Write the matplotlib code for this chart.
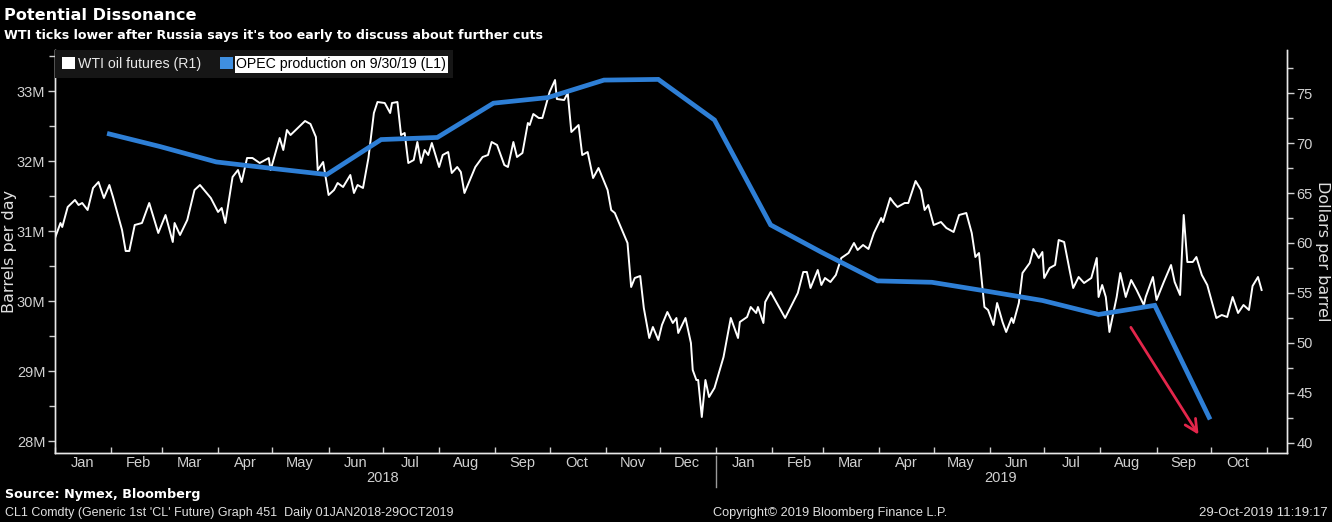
import numpy as np
import matplotlib
matplotlib.use('Agg')
import matplotlib.pyplot as plt
import matplotlib.dates as mdates
from matplotlib.patches import Patch
from matplotlib.ticker import FuncFormatter, MultipleLocator

# WTI front month, $/bbl (days counted from 1 Jan 2018)
wti_day = [0, 3, 4, 7, 11, 13, 15, 18, 21, 24, 27, 30, 32, 37, 39, 41, 44, 48, 52, 57,
           61, 65, 66, 69, 73, 77, 80, 86, 90, 92, 94, 98, 101, 103, 106, 109, 113, 118, 119, 124,
           126, 128, 130, 134, 138, 141, 144, 145, 148, 151, 154, 156, 159, 163, 165, 167, 170, 173, 176, 178,
           182, 185, 186, 189, 191, 193, 195, 198, 200, 202, 204, 206, 208, 212, 214, 217, 219, 222, 224, 226,
           229, 232, 236, 239, 241, 244, 248, 250, 253, 255, 258, 261, 262, 264, 267, 269, 271, 273, 276, 277,
           281, 283, 285, 289, 291, 294, 297, 300, 305, 307, 309, 316, 318, 320, 323, 325, 328, 330, 333, 335,
           338, 341, 343, 344, 348, 351, 352, 354, 355, 357, 359, 361, 364, 369, 373, 377, 378, 382, 384, 387,
           388, 391, 392, 395, 399, 403, 410, 413, 415, 417, 421, 423, 425, 428, 431, 434, 438, 441, 443, 446,
           449, 452, 456, 457, 461, 463, 465, 469, 471, 475, 478, 480, 482, 485, 489, 492, 496, 499, 503, 506,
           508, 510, 513, 515, 518, 520, 523, 525, 528, 529, 532, 534, 538, 540, 543, 545, 546, 549, 552, 554,
           557, 560, 562, 565, 568, 572, 575, 576, 578, 580, 582, 586, 588, 591, 594, 597, 601, 602, 606, 608,
           612, 616, 618, 621, 623, 625, 628, 630, 633, 636, 641, 644, 647, 650, 653, 656, 659, 661, 664, 666]
wti_price = [60.5, 62.0, 61.6, 63.6, 64.3, 63.8, 64.0, 63.3, 65.5, 66.1, 64.5, 65.8, 64.6, 61.3, 59.2, 59.2, 61.8, 62.0, 64.0, 61.0,
             62.8, 60.1, 62.0, 60.8, 62.3, 65.3, 65.8, 64.5, 63.1, 63.5, 62.0, 66.6, 67.3, 66.1, 68.5, 68.5, 68.0, 68.5, 67.3, 70.5,
             69.3, 71.3, 70.8, 71.5, 72.2, 71.9, 70.6, 67.3, 68.1, 64.8, 65.3, 66.0, 65.6, 66.8, 65.0, 65.8, 65.5, 68.5, 73.0, 74.1,
             74.0, 73.0, 74.0, 74.1, 70.8, 71.0, 68.0, 68.3, 70.1, 68.0, 69.3, 68.8, 70.0, 67.6, 68.8, 69.1, 67.0, 67.6, 67.1, 65.0,
             66.3, 67.6, 68.6, 68.8, 70.1, 69.8, 67.8, 67.6, 70.1, 68.6, 69.0, 72.0, 71.8, 72.9, 72.5, 72.5, 73.8, 75.1, 76.3, 74.4,
             74.3, 75.0, 71.1, 71.8, 68.8, 69.1, 66.5, 67.5, 65.3, 63.3, 63.0, 60.0, 55.6, 56.5, 56.7, 53.5, 50.5, 51.6, 50.3, 51.8,
             53.1, 52.0, 52.5, 51.0, 52.5, 50.0, 47.3, 46.3, 46.3, 42.6, 46.3, 44.6, 45.5, 48.6, 52.5, 50.5, 52.1, 52.6, 53.6, 53.0,
             53.6, 52.0, 54.1, 55.1, 53.8, 52.5, 55.0, 57.1, 57.1, 55.5, 57.3, 55.8, 56.5, 56.1, 56.8, 58.5, 59.0, 60.0, 59.3, 59.8,
             59.4, 61.0, 62.5, 62.1, 64.5, 64.0, 63.6, 64.0, 64.0, 66.2, 65.3, 63.3, 63.8, 61.8, 62.1, 61.5, 61.1, 62.8, 63.0, 61.0,
             58.6, 59.0, 53.6, 53.3, 51.8, 54.0, 52.1, 51.1, 52.5, 52.0, 54.0, 57.0, 58.0, 59.4, 58.5, 59.1, 56.5, 57.5, 57.8, 60.3,
             60.1, 57.3, 55.5, 56.6, 56.0, 56.5, 58.5, 54.6, 55.8, 54.6, 51.1, 54.6, 57.0, 54.6, 56.3, 55.3, 53.8, 54.6, 56.6, 54.3,
             56.1, 57.8, 56.1, 54.8, 62.8, 58.1, 58.1, 58.6, 56.8, 55.8, 52.5, 52.8, 52.6, 54.6, 53.0, 53.8, 53.3, 55.7, 56.6, 55.3]

# OPEC crude production, million barrels per day (month end)
opec_month = ['2018-01-31', '2018-02-28', '2018-03-31', '2018-04-30', '2018-05-31', '2018-06-30',
              '2018-07-31', '2018-08-31', '2018-09-30', '2018-10-31', '2018-11-30', '2018-12-31',
              '2019-01-31', '2019-02-28', '2019-03-31', '2019-04-30', '2019-05-31', '2019-06-30',
              '2019-07-31', '2019-08-31', '2019-09-30']
opec_mbd = [32.39, 32.21, 31.99, 31.90, 31.81, 32.31, 32.34, 32.83, 32.91, 33.16, 33.17, 32.59,
            31.09, 30.70, 30.29, 30.27, 30.14, 30.01, 29.81, 29.94, 28.34]

month_names = ['Jan', 'Feb', 'Mar', 'Apr', 'May', 'Jun', 'Jul', 'Aug', 'Sep', 'Oct', 'Nov', 'Dec']

fg = '#d0d0d0'
narrow = ['Liberation Sans', 'DejaVu Sans']

wti_dates = np.datetime64('2018-01-01') + np.array(wti_day).astype('timedelta64[D]')
opec_dates = np.array(opec_month, dtype='datetime64[D]')

fig = plt.figure(figsize=(13.32, 5.22), dpi=100, facecolor='black')
ax = fig.add_axes([0.0413, 0.1322, 0.9249, 0.772])
ax2 = ax.twinx()
ax.set_zorder(ax2.get_zorder() + 1)
ax.patch.set_visible(False)
ax2.set_facecolor('black')

ax2.plot(wti_dates, wti_price, color='white', lw=1.4)
ax.plot(opec_dates, opec_mbd, color='#2e7fd6', lw=3.4, solid_joinstyle='miter')

x0 = np.datetime64('2018-01-01')
x1 = np.datetime64('2019-11-12')
ax.set_xlim(x0, x1)
ax.set_ylim(27.83, 33.59)
ax2.set_ylim(39.0, 79.3)

# axes styling
for a in (ax, ax2):
    for s in a.spines.values():
        s.set_color('#e8e8e8')
        s.set_linewidth(1.0)
    a.spines['top'].set_visible(False)

ax.yaxis.set_major_locator(MultipleLocator(1))
ax.yaxis.set_minor_locator(MultipleLocator(0.5))
ax.yaxis.set_major_formatter(FuncFormatter(lambda v, p: '%dM' % round(v)))
ax2.yaxis.set_major_locator(MultipleLocator(5))
ax2.yaxis.set_minor_locator(MultipleLocator(2.5))
for a in (ax, ax2):
    a.tick_params(axis='y', which='major', colors=fg, length=5, width=1, labelsize=10.5, pad=2)
    a.tick_params(axis='y', which='minor', colors=fg, length=4, width=1)
    for lab in a.get_yticklabels():
        lab.set_family(narrow)

ax.xaxis.set_major_locator(mdates.MonthLocator())
ax.xaxis.set_major_formatter(plt.NullFormatter())
ax.xaxis.set_minor_locator(mdates.MonthLocator(bymonthday=16))
ax.xaxis.set_minor_formatter(FuncFormatter(lambda v, p: month_names[mdates.num2date(v).month - 1]))
ax.tick_params(axis='x', which='major', colors=fg, length=4, width=1, direction='in')
ax.tick_params(axis='x', which='minor', colors=fg, length=0, labelsize=10.5, pad=2)
for lab in ax.get_xticklabels(minor=True):
    lab.set_family(narrow)

# year labels and separator
ax.text(np.datetime64('2018-07-01'), -0.062, '2018', transform=ax.get_xaxis_transform(),
        ha='center', va='center', color=fg, fontsize=10.5, family=narrow)
ax.text(np.datetime64('2019-06-07'), -0.062, '2019', transform=ax.get_xaxis_transform(),
        ha='center', va='center', color=fg, fontsize=10.5, family=narrow)
ax.axvline(np.datetime64('2019-01-01'), ymin=-0.085, ymax=-0.007, color='#9a9a9a', lw=1, clip_on=False)

ax.set_ylabel('Barrels per day', color='#e0e0e0', fontsize=11.5, va='center')
ax.yaxis.set_label_coords(-0.037, 0.5)
ax2.set_ylabel('Dollars per barrel', color='#e0e0e0', fontsize=11.5, rotation=-90, va='center')
ax2.yaxis.set_label_coords(1.029, 0.5)

# legend
handles = [Patch(facecolor='white', edgecolor='none'), Patch(facecolor='#3f8fe0', edgecolor='none')]
leg = ax.legend(handles, ['WTI oil futures (R1)', 'OPEC production on 9/30/19 (L1)'],
                loc='upper left', bbox_to_anchor=(0.0, 1.0), ncol=2, frameon=True, fancybox=False,
                facecolor='#161616', edgecolor='none', framealpha=1, borderaxespad=0.0,
                handlelength=0.9, handleheight=0.9, handletextpad=0.25, columnspacing=1.3,
                borderpad=0.5, prop={'family': narrow, 'size': 10.2})
for t in leg.get_texts():
    t.set_color('#e8e8e8')
leg.get_texts()[1].set_color('black')
leg.get_texts()[1].set_bbox(dict(facecolor='white', edgecolor='none', pad=1.0))

# arrow
ax2.annotate('', xy=(np.datetime64('2019-09-25'), 40.6), xytext=(np.datetime64('2019-08-17'), 51.8),
             arrowprops=dict(arrowstyle='->', color='#e3264b', lw=2.0, mutation_scale=22))

# titles and footer
fig.text(0.003, 0.970, 'Potential Dissonance', color='white', fontsize=11.6, fontweight='bold', va='center')
fig.text(0.003, 0.932, "WTI ticks lower after Russia says it's too early to discuss about further cuts",
         color='white', fontsize=9.1, fontweight='bold', va='center')
fig.text(0.004, 0.052, 'Source: Nymex, Bloomberg', color='white', fontsize=9.2, fontweight='bold', va='center')
fig.text(0.004, 0.017, "CL1 Comdty (Generic 1st 'CL' Future) Graph 451  Daily 01JAN2018-29OCT2019",
         color='#e0e0e0', fontsize=9.0, family=narrow, va='center')
fig.text(0.535, 0.017, 'Copyright\u00a9 2019 Bloomberg Finance L.P.', color='#e0e0e0', fontsize=9.2,
         family=narrow, va='center')
fig.text(0.997, 0.017, '29-Oct-2019 11:19:17', color='#e0e0e0', fontsize=9.5, family=narrow,
         va='center', ha='right')

fig.savefig('out.png', dpi=100, facecolor='black')
